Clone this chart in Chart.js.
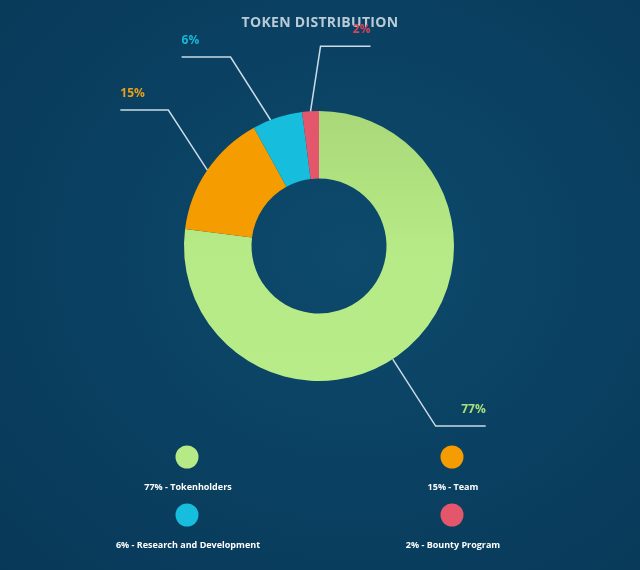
<!DOCTYPE html>
<html>
<head>
<meta charset="utf-8">
<script src="https://cdn.jsdelivr.net/npm/chart.js@4/dist/chart.umd.min.js"></script>
<style>
    html, body { margin: 0; padding: 0; }
    body {
        width: 640px; height: 570px; overflow: hidden;
        background: radial-gradient(ellipse at 55% 45%, #0d4a6c 0%, #0a4061 55%, #083858 100%);
    }
    #box { position: relative; width: 640px; height: 570px; }
    canvas { display: block; }
</style>
</head>
<body>
<div id="box"><canvas id="torta" width="640" height="570"></canvas></div>
<script>
// dati
var categorie = ['Tokenholders', 'Team', 'Research and Development', 'Bounty Program'];
var percentuali = [77, 15, 6, 2];
var colori = ['#b6ea86', '#f59d00', '#16bddc', '#e3566b'];
var coloriEtichette = ['#a9e07a', '#e8a018', '#1ab6d6', '#d8435c'];

// stile delle linee guida: punto di partenza sull'arco, gomito e tratto orizzontale
var guide = [
    {frazione: 0.53, dx: 43, dy: 67, oriz: 50},
    {frazione: 0.5, dx: -39, dy: -60, oriz: -48},
    {frazione: 0.36, dx: -40, dy: -63, oriz: -49},
    {frazione: 0.5, dx: 10, dy: -65, oriz: 50}
];

var pluginDisegno = {
    id: 'disegno',
    beforeDraw: function(chart){
        var ctx = chart.ctx;
        ctx.save();
        ctx.fillStyle = '#b9cbd7';
        ctx.font = 'bold 14px "Open Sans", sans-serif';
        ctx.textAlign = 'center';
        ctx.textBaseline = 'middle';
        if ('letterSpacing' in ctx) { ctx.letterSpacing = '0.3px'; }
        ctx.fillText('TOKEN DISTRIBUTION', 320, 23);
        ctx.restore();
    },
    afterDraw: function(chart){
        var ctx = chart.ctx;
        var archi = chart.getDatasetMeta(0).data;
        ctx.save();
        for (var i = 0; i < archi.length; i++) {
            var a = archi[i];
            var ang = a.startAngle + (a.endAngle - a.startAngle) * guide[i].frazione;
            var x0 = a.x + Math.cos(ang) * a.outerRadius;
            var y0 = a.y + Math.sin(ang) * a.outerRadius;
            var x1 = x0 + guide[i].dx;
            var y1 = y0 + guide[i].dy;
            var x2 = x1 + guide[i].oriz;
            ctx.strokeStyle = '#c9dbe6';
            ctx.lineWidth = 1.5;
            ctx.beginPath();
            ctx.moveTo(x0, y0);
            ctx.lineTo(x1, y1);
            ctx.lineTo(x2, y1);
            ctx.stroke();

            ctx.fillStyle = coloriEtichette[i];
            ctx.font = 'bold 12px "Open Sans", sans-serif';
            ctx.textBaseline = 'alphabetic';
            ctx.textAlign = guide[i].oriz > 0 ? 'right' : 'left';
            ctx.fillText(percentuali[i] + '%', x2, y1 - 13);
        }

        // legenda su due colonne
        var colonne = [187, 452];
        var righe = [457, 515];
        for (var j = 0; j < categorie.length; j++) {
            var cx = colonne[j % 2];
            var cy = righe[Math.floor(j / 2)];
            ctx.fillStyle = colori[j];
            ctx.beginPath();
            ctx.arc(cx, cy, 11.5, 0, Math.PI * 2);
            ctx.fill();
            ctx.fillStyle = '#ffffff';
            ctx.font = 'bold 9px "Open Sans", sans-serif';
            ctx.textAlign = 'center';
            ctx.textBaseline = 'middle';
            ctx.fillText(percentuali[j] + '% - ' + categorie[j], cx + 1, cy + 30);
        }
        ctx.restore();
    }
};

function coloreVerde(context){
    var chart = context.chart;
    var area = chart.chartArea;
    if (!area) { return colori[0]; }
    var g = chart.ctx.createLinearGradient(0, area.top, 0, area.bottom);
    g.addColorStop(0, '#a9d878');
    g.addColorStop(0.5, '#b6ea86');
    g.addColorStop(1, '#b8ec88');
    return g;
}

var ctx = document.getElementById('torta');
var chart = new Chart(ctx, {
    type: 'doughnut',
    data: {
        labels: categorie,
        datasets: [{
            data: percentuali,
            backgroundColor: function(context){
                if (context.dataIndex === 0) { return coloreVerde(context); }
                return colori[context.dataIndex];
            },
            borderWidth: 0
        }]
    },
    options: {
        responsive: false,
        animation: false,
        cutout: '50%',
        layout: { padding: { top: 111, bottom: 189, left: 184, right: 186 } },
        plugins: {
            legend: { display: false },
            tooltip: { enabled: false }
        }
    },
    plugins: [pluginDisegno]
});
</script>
</body>
</html>
